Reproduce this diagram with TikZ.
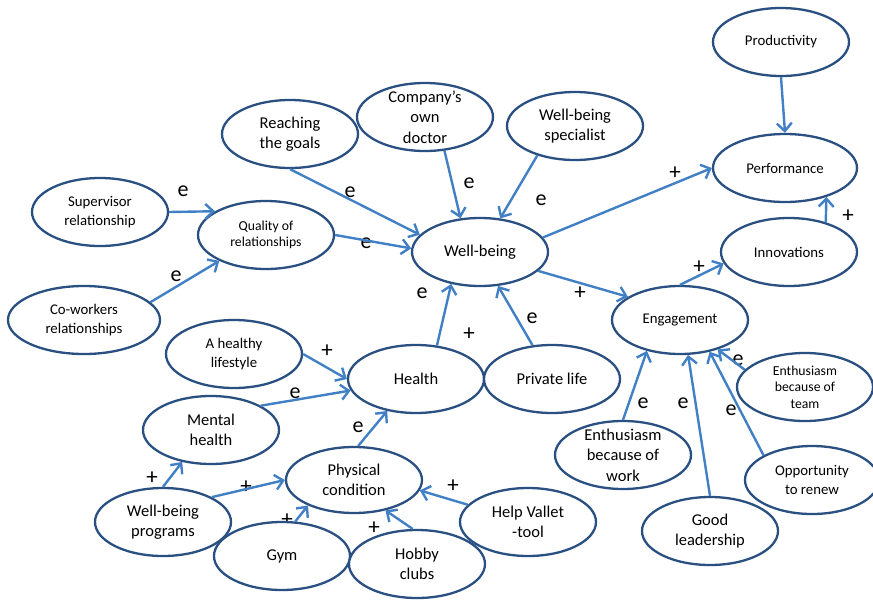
\documentclass[tikz,border=0pt]{standalone}
\usepackage{fontspec}
\setmainfont{Carlito}
\usetikzlibrary{shapes.geometric,arrows.meta}
\definecolor{rimblue}{RGB}{42,80,130}
\definecolor{linkblue}{RGB}{66,128,198}
\newcommand{\bigtxt}{\fontsize{16.5}{20.5}\selectfont}
\newcommand{\midtxt}{\fontsize{14.8}{18.5}\selectfont}
\newcommand{\smltxt}{\fontsize{13.7}{16.5}\selectfont}

\begin{document}
\begin{tikzpicture}[x=1pt,y=-1pt,
  bubble/.style={ellipse,draw=rimblue,line width=2.3pt,fill=white,
    minimum width=136pt,minimum height=68pt,inner sep=0pt,align=center,font=\bigtxt},
  tall/.style={inner ysep=-14pt},
  link/.style={draw=linkblue,line width=2.4pt,-{Straight Barb[length=8pt,width=15pt]}},
  sign/.style={inner sep=0pt,font=\fontsize{22}{22}\selectfont},
  plus/.style={inner sep=0pt,font=\fontsize{23}{23}\selectfont}]
\useasboundingbox (0,0) rectangle (873,600);
% signs on the links
\node[plus] (p1) at (675,173) {+};
\node[plus] (p2) at (848,216) {+};
\node[plus] (p3) at (580,293) {+};
\node[plus] (p4) at (699,267) {+};
\node[plus] (p5) at (469,334) {+};
\node[plus] (p6) at (327,351) {+};
\node[plus] (p7) at (152,478) {+};
\node[plus] (p8) at (246,487) {+};
\node[plus] (p9) at (287,520) {+};
\node[plus] (p10) at (374,528) {+};
\node[plus] (p11) at (453,486) {+};
\node[sign] (e1) at (469,183) {e};
\node[sign] (e2) at (541,200) {e};
\node[sign] (e3) at (350,192) {e};
\node[sign] (e4) at (366,243) {e};
\node[sign] (e5) at (183,191) {e};
\node[sign] (e6) at (176,276) {e};
\node[sign] (e7) at (422,293) {e};
\node[sign] (e8) at (532,318) {e};
\node[sign] (e9) at (295,393) {e};
\node[sign] (e10) at (358,427) {e};
\node[sign] (e11) at (643,403) {e};
\node[sign] (e12) at (683,403) {e};
\node[sign] (e13) at (731,410) {e};
\node[sign] (e14) at (738,360) {e};
% outcome side
\node[bubble,font=\midtxt] (prod) at (781,42) {Productivity};
\node[bubble,font=\midtxt,minimum width=144pt] (perf) at (785,168) {Performance};
\node[bubble,font=\midtxt] (innov) at (789,252) {Innovations};
\node[bubble,font=\midtxt] (eng) at (680,320) {Engagement};
\node[bubble,font=\smltxt,tall] (team) at (805,387) {Enthusiasm\\because of\\team};
\node[bubble,tall] (work) at (623,455) {Enthusiasm\\because of\\work};
\node[bubble] (lead) at (710,531) {Good\\leadership};
\node[bubble,font=\midtxt,minimum width=134pt] (renew) at (812,480) {Opportunity\\to renew};
% well-being and its causes
\node[bubble] (wb) at (480,252) {Well-being};
\node[bubble] (goals) at (290,134) {Reaching\\the goals};
\node[bubble,tall] (doc) at (425,117) {Company's\\own\\doctor};
\node[bubble] (spec) at (575,126) {Well-being\\specialist};
\node[bubble,font=\smltxt] (qual) at (266,235) {Quality of\\relationships};
\node[bubble,font=\midtxt] (sup) at (100,212) {Supervisor\\relationship};
\node[bubble,font=\midtxt,minimum width=152pt] (cowork) at (84,320) {Co-workers\\relationships};
\node[bubble] (health) at (416,379) {Health};
\node[bubble] (priv) at (552,379) {Private life};
% health side
\node[bubble,font=\midtxt] (life) at (234,354) {A healthy\\lifestyle};
\node[bubble] (mental) at (211,430) {Mental\\health};
\node[bubble,minimum height=66pt] (phys) at (354,480) {Physical\\condition};
\node[bubble] (prog) at (163,522) {Well-being\\programs};
\node[bubble] (gym) at (282,556) {Gym};
\node[bubble] (hobby) at (417,564) {Hobby\\clubs};
\node[bubble] (vallet) at (528,522) {Help Vallet\\-tool};

\draw[link] (prod.south) -- (perf.north);
\draw[link] (innov.39) -- (perf.-35);
\draw[link] (wb.13) -- (perf.west);
\draw[link] (wb.-18) -- (eng.156);
\draw[link] (eng.north) -- (innov.190);
\draw[link] (doc.-60) -- (wb.120);
\draw[link] (spec.-142) -- (wb.59);
\draw[link] (goals.south) -- (wb.164);
\draw[link] (qual.east) -- (wb.177);
\draw[link] (sup.east) -- (qual.155);
\draw[link] (cowork.15) -- (qual.-151);
\draw[link] (health.58) -- (wb.-132);
\draw[link] (priv.120) -- (wb.-62);
\draw[link] (life.east) -- (health.west);
\draw[link] (mental.26) -- (health.190);
\draw[link] (phys.83) -- (health.-132);
\draw[link] (prog.north) -- (mental.-132);
\draw[link] (prog.27) -- (phys.west);
\draw[link] (gym.69) -- (phys.-151);
\draw[link] (hobby.97) -- (phys.-44);
\draw[link] (vallet.164) -- (phys.-9);
\draw[link] (work.north) -- (eng.-137);
\draw[link] (lead.north) -- (eng.-77);
\draw[link] (renew.153) -- (eng.-47);
\draw[link] (team.164) -- (eng.-38);
\end{tikzpicture}
\end{document}
